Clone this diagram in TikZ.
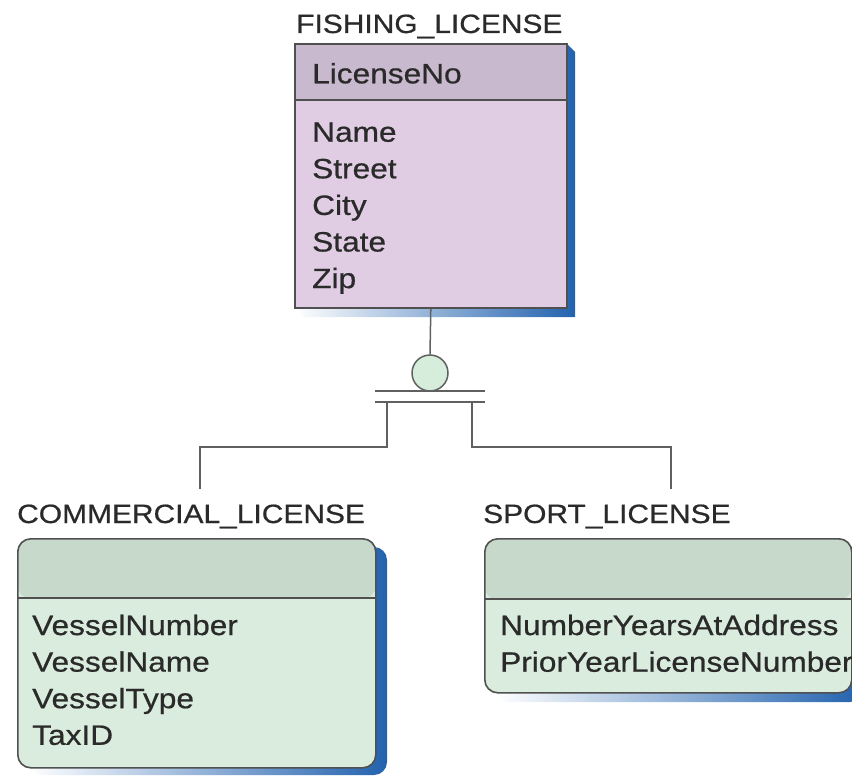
\documentclass[tikz,border=0pt]{standalone}
\usepackage{fontspec}
\setmainfont[FakeStretch=1.13,FakeBold=0.6]{Liberation Sans}

\definecolor{edgegray}{HTML}{505050}
\definecolor{linkgray}{HTML}{606060}
\definecolor{textgray}{HTML}{2A2A2A}
\definecolor{mauvehead}{HTML}{C9B9CF}
\definecolor{mauvebody}{HTML}{E0CDE4}
\definecolor{greenhead}{HTML}{C6D9CB}
\definecolor{greenbody}{HTML}{D9ECDE}
\definecolor{shadowblue}{HTML}{2262AE}
\definecolor{isafill}{HTML}{D6EDDC}

\begin{document}
\begin{tikzpicture}[x=1pt,y=-1pt,
  entity/.style={draw=edgegray, line width=1.6pt, inner sep=0pt, anchor=north west},
  softentity/.style={entity, rounded corners=13pt},
  headline/.style={draw=edgegray, line width=1.6pt},
  castshadow/.style={left color=white, right color=shadowblue},
  entitytitle/.style={anchor=base west, inner sep=0pt, text=textgray,
    font=\fontsize{26.5}{28}\selectfont},
  attr/.style={anchor=base west, inner sep=0pt, text=textgray,
    font=\fontsize{28}{30}\selectfont},
  link/.style={draw=linkgray, line width=1.5pt},
]
\useasboundingbox (0,0) rectangle (852,776);

% ---------- FISHING_LICENSE (supertype) ----------
\shade[castshadow] (566,43) -- (575,52) -- (575,317) -- (304,317) -- (294,307) -- cycle;
\node[entity, fill=mauvebody, minimum width=272pt, minimum height=264pt,
  path picture={\fill[mauvehead] (path picture bounding box.north west)
    rectangle ([yshift=-57pt]path picture bounding box.north east);}]
  (fl) at (294,43) {};
\draw[headline] ([yshift=-57pt]fl.north west) -- ([yshift=-57pt]fl.north east);
\node[entitytitle] (fl-title) at (296,33) {FISHING\_LICENSE};
\node[attr] (fl-key)    at (312,83.3)  {LicenseNo};
\node[attr] (fl-name)   at (312,141.7) {Name};
\node[attr] (fl-street) at (312,178.3) {Street};
\node[attr] (fl-city)   at (312,214.9) {City};
\node[attr] (fl-state)  at (312,251.5) {State};
\node[attr] (fl-zip)    at (312,288.1) {Zip};

% ---------- COMMERCIAL_LICENSE (subtype) ----------
\shade[castshadow, rounded corners=13pt] (28,547) rectangle (387,775);
\node[softentity, fill=greenbody, minimum width=358pt, minimum height=229pt,
  path picture={\fill[greenhead] (path picture bounding box.north west)
    rectangle ([yshift=-60pt]path picture bounding box.north east);}]
  (cl) at (17,538) {};
\draw[headline] ([yshift=-60pt]cl.north west) -- ([yshift=-60pt]cl.north east);
\node[entitytitle] (cl-title) at (17,523) {COMMERCIAL\_LICENSE};
\node[attr] (cl-num)  at (32,635)   {VesselNumber};
\node[attr] (cl-name) at (32,671.6) {VesselName};
\node[attr] (cl-type) at (32,708.2) {VesselType};
\node[attr] (cl-tax)  at (32,744.8) {TaxID};

% ---------- SPORT_LICENSE (subtype) ----------
\shade[castshadow, rounded corners=13pt] (495,547) rectangle (863,702);
\node[softentity, fill=greenbody, minimum width=367pt, minimum height=154pt,
  path picture={\fill[greenhead] (path picture bounding box.north west)
    rectangle ([yshift=-61pt]path picture bounding box.north east);}]
  (sl) at (484,538) {};
\draw[headline] ([yshift=-61pt]sl.north west) -- ([yshift=-61pt]sl.north east);
\node[entitytitle] (sl-title) at (483,523) {SPORT\_LICENSE};
\node[attr] (sl-years) at (500,635)   {NumberYearsAtAddress};
\node[attr] (sl-prior) at (500,671.7) {PriorYearLicenseNumber};

% ---------- subtype discriminator ----------
\node[circle, draw=linkgray, line width=1.5pt, fill=isafill,
  minimum size=36pt, inner sep=0pt] (isa) at (430,373) {};
\draw[link] (fl.south) -- (isa.north);

\coordinate (bar1w) at (375,391);
\coordinate (bar1e) at (485,391);
\coordinate (bar2w) at (375,402);
\coordinate (bar2e) at (485,402);
\draw[link] (bar1w) -- (bar1e);
\draw[link] (bar2w) -- (bar2e);

\coordinate (legL) at (387,402);
\coordinate (kneeL) at (387,447);
\coordinate (elbowL) at (200,447);
\coordinate (endL) at (200,489);
\coordinate (legR) at (472,402);
\coordinate (kneeR) at (472,447);
\coordinate (elbowR) at (671,447);
\coordinate (endR) at (671,489);
\draw[link] (legL) -- (kneeL) -- (elbowL) -- (endL);
\draw[link] (legR) -- (kneeR) -- (elbowR) -- (endR);
\end{tikzpicture}
\end{document}
